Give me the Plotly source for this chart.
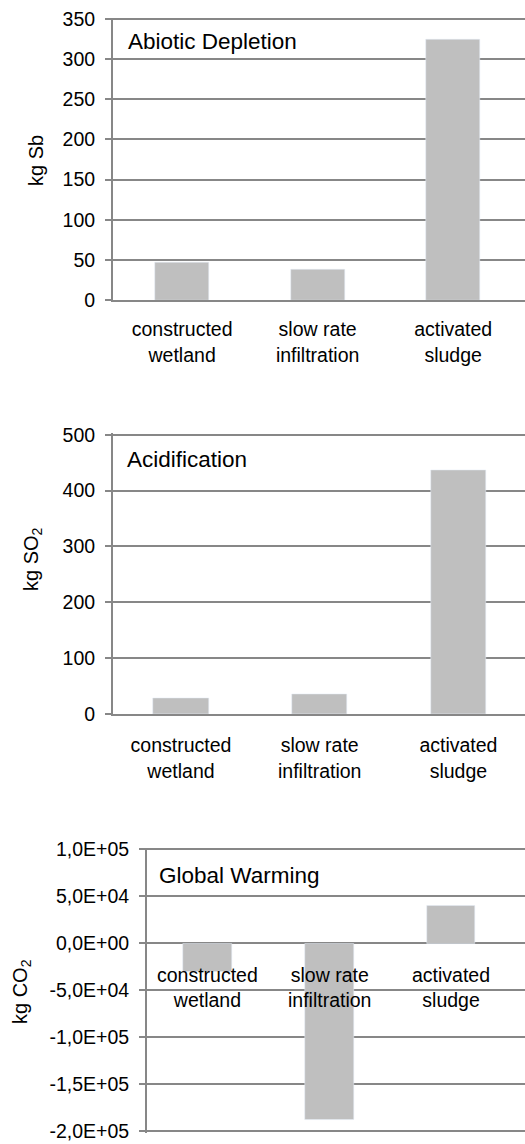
import plotly.graph_objects as go

# ---- data ----
categories = ["constructed<br>wetland", "slow rate<br>infiltration", "activated<br>sludge"]

abiotic_values = [47, 37.5, 325]          # kg Sb
acid_values = [28.5, 36, 437]             # kg SO2
gw_values = [-30500, -188000, 39700]      # kg CO2

abiotic_ticks = [0, 50, 100, 150, 200, 250, 300, 350]
acid_ticks = [0, 100, 200, 300, 400, 500]
gw_ticks = [-200000, -150000, -100000, -50000, 0, 50000, 100000]
gw_ticktext = ["-2,0E+05", "-1,5E+05", "-1,0E+05", "-5,0E+04", "0,0E+00", "5,0E+04", "1,0E+05"]

titles = ["Abiotic Depletion", "Acidification", "Global Warming"]
ytitles = ["kg Sb", "kg SO<sub>2</sub>", "kg CO<sub>2</sub>"]

# ---- styling ----
W, H = 525, 1144
BAR = "#bfbfbf"
LINE = "#878787"
FONT = "Liberation Sans, Arial, sans-serif"
TXT = "#000000"

def px_x(p):
    return p / W

def px_y(p):
    return 1 - p / H

def ydom(lo, hi, p_lo, p_hi, pad_lo=0.0, pad_hi=1.5):
    """Domain/range so that value lo sits at pixel row p_lo and hi at p_hi,
    padded slightly so edge gridlines are still drawn."""
    k = (hi - lo) / (p_lo - p_hi)  # units per px
    rng = [lo - pad_lo * k, hi + pad_hi * k]
    dom = [px_y(p_lo + pad_lo), px_y(p_hi - pad_hi)]
    return dom, rng

fig = go.Figure()
fig.add_trace(go.Bar(x=categories, y=abiotic_values, marker_color=BAR, width=0.4,
                     xaxis="x", yaxis="y", showlegend=False))
fig.add_trace(go.Bar(x=categories, y=acid_values, marker_color=BAR, width=0.4,
                     xaxis="x2", yaxis="y2", showlegend=False))
fig.add_trace(go.Bar(x=categories, y=gw_values, marker_color=BAR, width=0.4,
                     xaxis="x3", yaxis="y3", showlegend=False))

tickfont = dict(family=FONT, size=19.5, color=TXT)
catfont = dict(family=FONT, size=19.5, color=TXT)

def yax(domrng, tickvals, ticktext=None, **kw):
    dom, rng = domrng
    d = dict(domain=dom, range=rng, tickmode="array", tickvals=tickvals,
             showgrid=True, gridcolor=LINE, gridwidth=2,
             showline=True, linecolor=LINE, linewidth=2,
             ticks="outside", ticklen=6, tickwidth=2, tickcolor=LINE,
             tickfont=tickfont, zeroline=False, ticklabelstandoff=6,
             automargin=False, fixedrange=True)
    if ticktext is not None:
        d["ticktext"] = ticktext
    d.update(kw)
    return d

def xax(domain, rng, standoff, **kw):
    d = dict(domain=domain, range=rng, type="category",
             showgrid=False, showline=True, linecolor=LINE, linewidth=2,
             ticks="", tickfont=catfont, zeroline=False, ticklabelstandoff=standoff,
             automargin=False, fixedrange=True)
    d.update(kw)
    return d

fig.update_layout(
    width=W, height=H,
    margin=dict(l=0, r=0, t=0, b=0),
    paper_bgcolor="white", plot_bgcolor="white",
    font=dict(family=FONT, color=TXT),
    bargap=0,
    xaxis=xax([px_x(113), 1.0], [-0.51, 2.53], 11, anchor="y"),
    yaxis=yax(ydom(0, 350, 300, 19), abiotic_ticks, anchor="x"),
    xaxis2=xax([px_x(113), 1.0], [-0.49, 2.48], 13, anchor="y2"),
    yaxis2=yax(ydom(0, 500, 714, 434.7), acid_ticks, anchor="x2"),
    # chart 3: category labels sit at the zero line (drawn below as annotations)
    xaxis3=xax([px_x(147), 1.0], [-0.5, 2.61], 0, anchor="y3",
               showline=False, showticklabels=False),
    yaxis3=yax(ydom(-200000, 100000, 1131.3, 849.3, pad_lo=1.5), gw_ticks, gw_ticktext,
               anchor="x3"),
)

# category labels of chart 3 at value 0 of its y axis
for c in categories:
    fig.add_annotation(text=c, xref="x3", yref="y3", x=c, y=0,
                       xanchor="center", yanchor="top", yshift=-19, showarrow=False,
                       font=catfont)

# chart titles
title_pos = [(126, 42), (125, 459.5), (157, 875)]
for t, (x, y) in zip(titles, title_pos):
    fig.add_annotation(text=t, xref="paper", yref="paper", x=px_x(x), y=px_y(y),
                       xanchor="left", yanchor="middle", showarrow=False,
                       font=dict(family=FONT, size=22.5, color=TXT))

# y-axis titles
ytitle_pos = [(36, 161), (32, 559), (22, 992)]
for t, (x, y) in zip(ytitles, ytitle_pos):
    fig.add_annotation(text=t, xref="paper", yref="paper", x=px_x(x), y=px_y(y),
                       xanchor="center", yanchor="middle", showarrow=False, textangle=-90,
                       font=dict(family=FONT, size=20, color=TXT))

fig.write_html("out.html", config={"displayModeBar": False},
               post_script="document.body.style.margin='0px';")
